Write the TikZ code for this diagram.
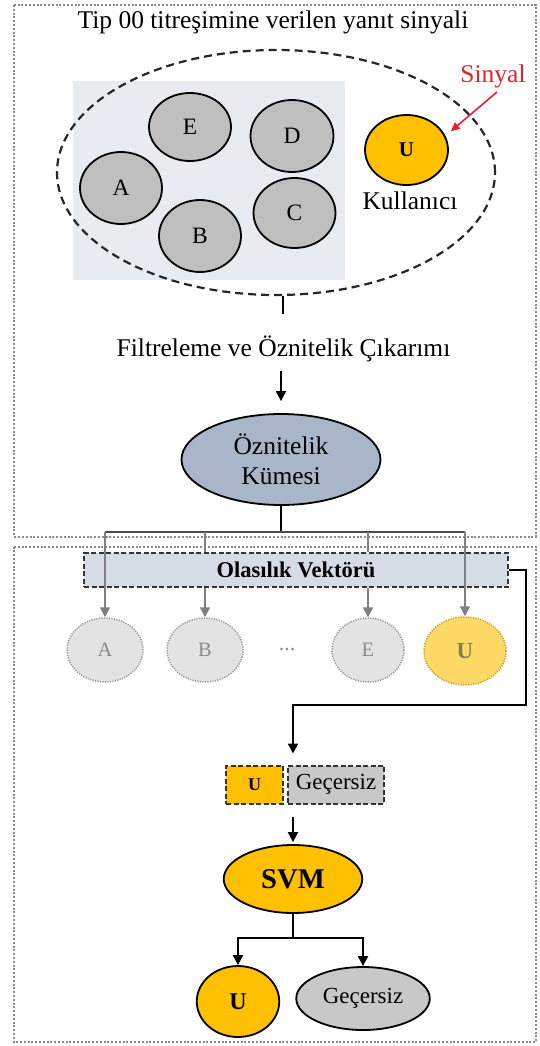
\documentclass[tikz,border=0pt]{standalone}
\usepackage{fontspec}
\setmainfont{Liberation Serif}
\usetikzlibrary{shapes.geometric,arrows.meta}
\definecolor{panelbg}{HTML}{E8ECF1}
\definecolor{classgray}{HTML}{BFBFBF}
\definecolor{useror}{HTML}{FFC000}
\definecolor{featblue}{HTML}{A9B6C9}
\definecolor{vecblue}{HTML}{D5DCE6}
\definecolor{fadegray}{HTML}{E3E3E3}
\definecolor{fadeline}{HTML}{999999}
\definecolor{fadetext}{HTML}{8C8C8C}
\definecolor{fadeyel}{HTML}{FFD966}
\definecolor{fadeyline}{HTML}{C8A02A}
\definecolor{fadeytext}{HTML}{857A5A}
\definecolor{invgray}{HTML}{C8C8C8}
\definecolor{framegray}{HTML}{8A8A8A}
\definecolor{linkgray}{HTML}{808080}
\definecolor{sigred}{HTML}{E8202A}
\newcommand{\myfs}[1]{\fontsize{#1pt}{29.5pt}\selectfont}

\tikzset{
  frame/.style={draw=framegray, line width=2pt, dash pattern=on 2pt off 1.8pt},
  cls/.style={ellipse, draw=black, line width=1.8pt, fill=classgray, inner sep=0pt, font=\myfs{23.5}},
  usr/.style={ellipse, draw=black, line width=1.8pt, fill=useror, inner sep=0pt},
  fade/.style={ellipse, draw=fadeline, line width=1.5pt, dash pattern=on 1.2pt off 1.3pt,
    fill=fadegray, text=fadetext, inner sep=0pt, minimum width=76pt, minimum height=64pt, font=\myfs{20.5}},
  txt/.style={font=\myfs{25.5}, inner sep=0pt},
  link/.style={draw=black, line width=2pt},
  arr/.style={link, -{Triangle[width=10pt,length=10pt]}},
  glink/.style={draw=linkgray, line width=1.5pt},
  garr/.style={glink, -{Triangle[width=10pt,length=10pt]}},
  redarr/.style={draw=sigred, line width=1.6pt, -{Triangle[width=8pt,length=9pt]}},
  dbox/.style={rectangle, draw=black!80, line width=2pt, dash pattern=on 5pt off 2.5pt, inner sep=0pt}
}

\begin{document}
\begin{tikzpicture}[x=1pt,y=-1pt]
\useasboundingbox (0,0) rectangle (539,1046);

% two dotted frames
\draw[frame] (14,5) rectangle (536,536.5);
\draw[frame] (14,546.5) rectangle (536,1042);

% ---- upper part: signal acquisition ----
\node[txt, anchor=base] (title) at (273,28.3) {Tip 00 titreşimine verilen yanıt sinyali};

\node[fill=panelbg, minimum width=272pt, minimum height=199pt, inner sep=0pt] (panel) at (209,180.5) {};
\node[ellipse, draw=black!85, line width=2.2pt, dash pattern=on 8pt off 5pt,
      minimum width=438pt, minimum height=245pt, inner sep=0pt] (grp) at (276,172.5) {};

\node[cls, minimum width=82pt, minimum height=68pt] (E) at (190,127) {E};
\node[cls, minimum width=83pt, minimum height=72pt] (D) at (292,136) {D};
\node[cls, minimum width=82pt, minimum height=72pt] (A) at (121,188) {A};
\node[cls, minimum width=82pt, minimum height=72pt] (B) at (200,236) {B};
\node[cls, minimum width=82pt, minimum height=70pt] (C) at (294.5,213) {C};
\node[usr, minimum width=83pt, minimum height=70pt, font=\bfseries\myfs{21}] (U) at (406.5,150) {U};
\node[txt, anchor=base] (user) at (410,209) {Kullanıcı};

\node[txt, anchor=base, text=sigred] (sig) at (493,83) {Sinyal};
\coordinate (sigtail) at (497,92);
\draw[redarr, shorten >=7pt] (sigtail) -- (U.20);

\node[txt, anchor=base] (filt) at (283.5,356.7) {Filtreleme ve Öznitelik Çıkarımı};
\coordinate (tickend) at (282.5,314);
\draw[link] (tickend |- grp.south) -- (tickend);

\node[ellipse, draw=black, line width=1.8pt, fill=featblue, inner sep=0pt,
      minimum width=199pt, minimum height=91pt, align=center, font=\myfs{25.5}] (oz) at (281,459.5)
      {Öznitelik\\Kümesi};
\draw[arr, shorten <=9pt, shorten >=12pt] (oz.north |- filt.south) -- (oz.north);

% ---- lower part: classification ----
\node[dbox, fill=vecblue, minimum width=424pt, minimum height=34pt, font=\bfseries\myfs{22.5}] (ov) at (296,570) {Olasılık Vektörü\hspace{22pt}};

\node[fade] (fa) at (105,650) {A};
\node[fade] (fb) at (205,650) {B};
\node[fade, minimum width=72pt] (fe) at (368,650) {E};
\node[fade, draw=fadeyline, fill=fadeyel, text=fadeytext, minimum width=82pt, minimum height=68pt,
      font=\bfseries\myfs{23}] (fu) at (465,651) {U};
\node[text=fadetext, font=\myfs{22}] (dots) at (287,650) {...};

\coordinate (bus) at (281,532);
\draw[link] (oz.south) -- (bus);
\draw[draw=black!70, line width=1.8pt] (fa.north |- bus) -- (fu.north |- bus);
\draw[glink] (fb.north |- bus) -- (fb.north |- ov.north);
\draw[glink] (fe.north |- bus) -- (fe.north |- ov.north);
\draw[garr] (fb.north |- ov.south) -- (fb.north);
\draw[garr] (fe.north |- ov.south) -- (fe.north);
\draw[garr] (fa.north |- bus) -- (fa.north);
\draw[garr] (fu.north |- bus) -- (fu.north);

\node[dbox, fill=useror, minimum width=57pt, minimum height=38pt, font=\bfseries\myfs{18}] (ubox) at (254.5,784.5) {U};
\node[dbox, fill=invgray, minimum width=96pt, minimum height=38pt, font=\myfs{23}] (gbox) at (336,784.5) {Geçersiz};

\node[usr, minimum width=138.5pt, minimum height=68pt, font=\bfseries\myfs{28.6}] (svm) at (293,879) {SVM};

\coordinate (rt) at (526,705);
\draw[arr, shorten >=11pt] (ov.east) -| (rt) -| (svm.north |- ubox.north);
\draw[arr, shorten <=12pt, shorten >=2pt] (svm.north |- ubox.south) -- (svm.north);

\node[usr, minimum width=82.5pt, minimum height=71pt, font=\bfseries\myfs{24}] (uout) at (238,1001.5) {U};
\node[ellipse, draw=black, line width=1.8pt, fill=invgray, inner sep=0pt,
      minimum width=133.5pt, minimum height=63pt, font=\myfs{23}] (gout) at (363,998.5) {Geçersiz};

\coordinate (split) at (293,938);
\draw[link] (svm.south) -- (split);
\draw[arr] (split) -| (uout.north);
\draw[arr] (split) -| (gout.north);
\end{tikzpicture}
\end{document}
